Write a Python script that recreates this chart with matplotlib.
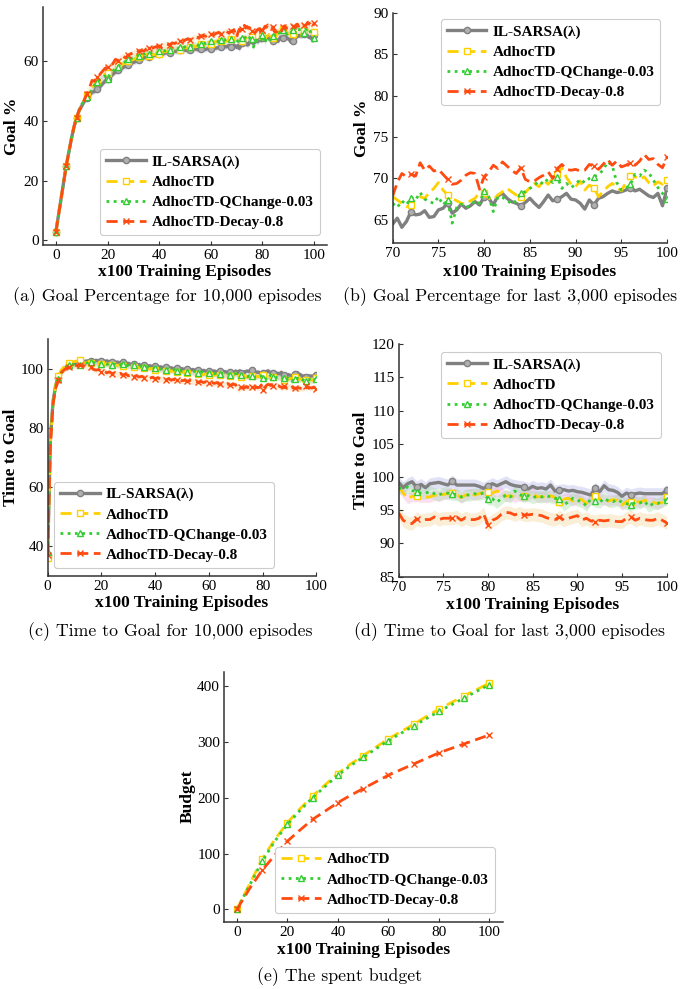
import numpy as np
import matplotlib.pyplot as plt

plt.rcParams['font.family'] = 'Liberation Serif'

# x grids: x100 episodes, 1-step up to 69, then half steps for the last 3,000 episodes
x_early = np.arange(0, 70)
x_late = np.arange(70, 100.01, 0.5)

names = ['IL-SARSA(\u03bb)', 'AdhocTD', 'AdhocTD-QChange-0.03', 'AdhocTD-Decay-0.8']

# ---- Goal % ----
goal_early_il = [3, 8.5, 14, 19.5, 25, 29.5, 34, 38, 41, 43.5, 45, 46.5, 47.5, 48.5, 49.5, 49.8, 50.5, 51.3, 52.3, 53.2,
                 53.8, 54.5, 55.5, 56.2, 56.8, 57.2, 57.8, 58.2, 58.5, 59, 59.5, 59.8, 60.3, 60.5, 61, 61.2, 61.4, 61.6, 61.8, 62,
                 62.2, 62.1, 62.5, 62.8, 62.6, 63, 63.2, 63.1, 63.5, 63.3, 63.6, 63.4, 63.8, 63.6, 64, 63.7, 64, 64.1, 63.8, 64.2,
                 64, 64.4, 64.2, 64.6, 64.5, 64.9, 64.7, 65.2, 64.8, 65.3]
goal_early_ad = [3, 8.5, 14, 19.5, 25, 29.5, 34, 38, 41, 43.5, 45.5, 47, 48.5, 49.5, 51, 52, 53, 54, 54.5, 55.5,
                 56, 56.8, 57, 57.8, 58.5, 58.2, 59, 59.5, 59.8, 60.2, 60.5, 60.8, 61.2, 61.6, 61.5, 62, 61.8, 62.3, 62, 62.5,
                 62.3, 62.8, 63, 63.2, 63.5, 63.3, 63.8, 64, 63.8, 64.3, 64.5, 64.3, 64.8, 65, 64.7, 65.2, 65.5, 65.3, 65.8, 66,
                 65.7, 66.2, 66.5, 66.2, 66.6, 66.8, 66.5, 67, 67.3, 67]
goal_early_qc = [3, 8.5, 14, 19.5, 25, 29.5, 34, 38, 41, 43.5, 45.5, 46.8, 48, 49, 50.5, 52, 53, 53.8, 54.2, 55,
                 54, 55.8, 56.5, 57.5, 58, 58.8, 59.3, 59.8, 60.5, 60.8, 61, 61.3, 61.8, 61.5, 62.2, 62.5, 62.3, 62.8, 63, 62.8,
                 63.2, 63.5, 63.3, 63.8, 63.6, 64, 64.3, 64, 64.5, 64.3, 64.7, 65, 64.8, 65.3, 65.5, 65.2, 65.7, 66, 65.8, 66.2,
                 66.5, 66.2, 66.7, 66.5, 67, 66.8, 67.3, 67.5, 67.2, 67.5]
goal_early_dc = [3, 8.5, 14, 19.5, 25, 29.5, 34, 38, 41, 43.5, 45, 47, 49, 51, 53.5, 53.2, 54.5, 55.5, 56.5, 57.5,
                 58, 58.5, 59, 60.5, 60, 61, 61.5, 61, 62, 62.3, 62.8, 62.5, 63.3, 63.5, 63.2, 64, 64.3, 64, 64.5, 64.8,
                 65, 64.7, 65.3, 65.6, 65.3, 66, 65.8, 66.3, 66.5, 66.2, 67, 67.3, 67, 67.6, 68, 67.7, 68.3, 68.5, 68.2, 68.8,
                 69, 68.6, 69.2, 69.5, 69, 69.6, 69.8, 69.4, 70, 70.3]

goal_late_il = [64.5, 65.2, 64.1, 64.8, 66.0, 65.6, 65.7, 66.1, 65.3, 65.4, 66.2, 66.4, 67.0, 65.8, 66.2, 66.9, 66.4, 66.7, 67.2, 66.8,
                67.8, 67.6, 66.8, 67.9, 68.2, 67.6, 67.2, 67.0, 66.7, 67.1, 67.6, 67.0, 66.5, 67.2, 68.0, 67.3, 67.5, 67.8, 68.2, 67.5,
                67.4, 67.0, 66.3, 67.4, 66.8, 67.6, 67.8, 68.2, 68.5, 68.3, 68.4, 68.6, 68.9, 68.5, 68.7, 68.3, 67.9, 67.7, 68.2, 66.7,
                68.8]
goal_late_ad = [67.8, 67.4, 67.0, 66.6, 66.8, 67.5, 67.8, 67.6, 68.3, 68.8, 69.5, 68.6, 68.0, 67.6, 67.3, 67.0, 66.9, 67.3, 67.6, 68.3,
                68.2, 67.6, 67.4, 68.0, 68.4, 68.8, 68.4, 68.0, 67.8, 68.3, 68.9, 69.4, 69.0, 69.8, 69.3, 70.0, 70.5, 71.3, 70.1, 69.3,
                69.0, 69.7, 68.6, 69.2, 68.9, 67.8, 68.4, 69.0, 69.4, 69.0, 68.5, 69.5, 70.3, 70.2, 69.9, 70.2, 69.5, 69.1, 69.6, 69.3,
                69.8]
goal_late_qc = [67.0, 66.5, 67.3, 66.8, 67.7, 67.4, 68.3, 67.5, 67.2, 67.0, 67.8, 66.8, 67.4, 64.6, 66.5, 66.9, 66.5, 66.7, 67.3, 67.0,
                68.5, 67.8, 66.0, 67.8, 67.7, 67.4, 66.9, 67.3, 68.2, 68.4, 68.8, 69.2, 69.7, 69.3, 70.0, 69.5, 70.2, 68.8, 69.4, 68.9,
                69.3, 69.9, 69.5, 70.0, 70.2, 70.5, 71.0, 72.0, 71.6, 69.5, 68.6, 68.8, 69.3, 70.5, 70.3, 71.0, 70.7, 69.8, 68.9, 68.2,
                67.5]
goal_late_dc = [67.9, 69.5, 70.6, 70.2, 70.5, 70.3, 71.9, 71.0, 71.5, 70.9, 71.1, 70.5, 69.9, 69.3, 69.4, 69.8, 70.4, 70.7, 70.6, 68.7,
                70.2, 70.8, 71.6, 71.2, 72.0, 71.5, 71.0, 70.6, 71.3, 69.9, 69.6, 69.7, 70.1, 70.4, 70.8, 70.0, 71.2, 71.7, 71.1, 71.0,
                71.1, 70.9, 71.0, 71.7, 71.5, 71.1, 71.7, 72.3, 71.6, 72.1, 71.4, 71.6, 71.9, 71.6, 72.1, 72.9, 72.3, 72.4, 71.7, 71.3,
                72.6]

# ---- Time to Goal ----
ttg_early_il = [37, 76, 89, 94.5, 97, 98.8, 99.8, 100.5, 101.2, 101.6, 101.8, 102, 102.2, 102.3, 102.5, 102.6, 102.7, 102.6, 102.8, 102.6,
                102.7, 102.5, 102.6, 102.3, 102.4, 102.1, 102.2, 101.9, 102.1, 101.7, 101.8, 101.4, 101.6, 101.2, 101.4, 101.0, 101.2, 100.8, 101.0, 100.6,
                100.8, 100.4, 100.6, 100.3, 100.5, 100.1, 100.3, 99.9, 100.1, 99.8, 100.0, 99.6, 99.8, 99.5, 99.7, 99.4, 99.6, 99.2, 99.4, 99.1,
                99.3, 99.0, 99.2, 98.9, 99.1, 98.8, 99.0, 98.7, 98.9, 98.6]
ttg_early_ad = [36, 75, 88.5, 94.5, 97.5, 99.5, 100.5, 101.2, 101.8, 102.2, 102.4, 102.5, 103.0, 102.3, 102.0, 102.2, 101.9, 102.1, 101.8, 102.0,
                101.7, 101.9, 101.5, 101.7, 101.3, 101.5, 101.1, 101.3, 100.9, 101.1, 100.7, 100.9, 100.5, 100.7, 100.3, 100.5, 100.1, 100.3, 99.9, 100.1,
                99.7, 99.9, 99.5, 99.7, 99.3, 99.5, 99.1, 99.3, 98.9, 99.1, 98.8, 99.0, 98.6, 98.8, 98.4, 98.6, 98.2, 98.4, 98.0, 98.2,
                97.9, 98.1, 97.8, 98.0, 97.7, 97.9, 97.6, 97.8, 97.5, 97.7]
ttg_early_qc = [38, 76, 89, 94, 96.5, 98.5, 99.8, 100.6, 101.2, 101.5, 101.3, 101.0, 101.2, 101.6, 101.9, 102.0, 102.4, 102.1, 101.8, 102.0,
                101.6, 101.8, 101.4, 101.7, 101.2, 101.5, 101.0, 101.3, 101.5, 101.0, 101.1, 100.7, 101.2, 100.8, 100.6, 100.9, 100.4, 100.7, 100.2, 100.5,
                100.1, 100.3, 99.8, 100.1, 99.6, 99.9, 99.5, 99.7, 99.3, 99.6, 99.2, 99.4, 99.0, 99.3, 98.9, 99.1, 98.7, 98.9, 98.5, 98.8,
                98.4, 98.6, 98.3, 98.5, 98.1, 98.4, 98.0, 98.3, 97.9, 98.1]
ttg_early_dc = [37, 74, 88, 93.5, 96, 98.5, 99.5, 100.2, 100.6, 101.0, 101.2, 101.0, 101.3, 100.8, 101.0, 100.3, 100.5, 99.8, 99.5, 99.7,
                99.0, 99.2, 98.6, 98.9, 98.3, 98.6, 98.0, 98.4, 97.8, 98.2, 97.6, 97.9, 97.3, 97.6, 97.2, 97.4, 97.0, 97.3, 96.8, 97.1,
                96.6, 96.9, 96.5, 96.7, 96.2, 96.6, 96.1, 96.4, 96.0, 96.3, 95.9, 96.1, 95.7, 96.0, 95.6, 95.8, 95.4, 95.7, 95.3, 95.6,
                95.2, 95.4, 95.0, 95.3, 94.7, 95.1, 94.6, 94.9, 94.4, 94.7]

ttg_late_il = [99.2, 98.4, 99.0, 99.3, 98.5, 98.9, 98.4, 99.0, 99.1, 99.2, 99.0, 98.8, 99.4, 98.8, 98.8, 98.8, 98.8, 98.8, 98.6, 98.3,
               98.7, 99.0, 98.7, 99.0, 99.3, 98.9, 98.7, 98.6, 98.5, 98.2, 98.6, 98.3, 98.4, 98.2, 98.8, 97.9, 98.0, 98.1, 97.9, 98.0,
               97.8, 97.7, 97.5, 97.3, 98.3, 97.8, 98.7, 98.1, 98.0, 97.7, 97.1, 97.6, 97.3, 97.5, 97.6, 97.5, 97.5, 97.5, 97.5, 97.5,
               98.0]
ttg_late_ad = [98.5, 97.6, 96.8, 97.1, 97.1, 97.0, 97.0, 97.0, 97.3, 97.1, 97.4, 97.5, 97.6, 97.4, 96.9, 97.3, 97.5, 97.3, 97.5, 97.7,
               97.8, 97.6, 97.9, 97.7, 97.1, 97.2, 97.0, 97.2, 97.1, 97.2, 97.6, 97.0, 97.1, 96.9, 97.2, 96.9, 96.3, 96.7, 96.8, 96.4,
               96.8, 96.6, 96.0, 96.6, 97.1, 96.7, 96.6, 96.4, 96.6, 96.5, 95.8, 96.3, 96.2, 96.4, 96.2, 96.5, 96.3, 96.2, 96.0, 96.2,
               97.0]
ttg_late_qc = [98.3, 98.3, 98.5, 98.0, 97.8, 97.6, 97.6, 97.8, 97.5, 97.3, 97.6, 97.6, 97.4, 97.4, 97.0, 97.3, 97.3, 97.5, 97.4, 97.6,
               96.7, 96.7, 96.2, 96.8, 97.3, 97.0, 97.9, 97.4, 97.1, 97.2, 96.9, 97.1, 97.0, 97.2, 97.0, 96.8, 96.7, 95.8, 96.3, 96.8,
               96.5, 96.3, 95.7, 96.7, 96.4, 96.2, 96.8, 96.4, 96.3, 96.6, 96.2, 96.0, 95.8, 96.2, 96.1, 96.4, 95.6, 96.0, 96.0, 96.4,
               96.6]
ttg_late_dc = [94.6, 93.5, 93.1, 93.0, 93.7, 93.5, 93.6, 93.6, 94.0, 93.6, 93.8, 93.8, 93.8, 94.0, 93.5, 93.9, 93.6, 93.6, 93.8, 94.5,
               92.8, 93.5, 93.8, 94.4, 94.7, 94.6, 94.3, 94.6, 94.3, 94.3, 94.4, 94.3, 94.2, 93.9, 93.7, 93.6, 94.0, 93.5, 93.8, 94.0,
               94.2, 93.5, 93.8, 93.4, 93.3, 93.5, 93.4, 93.5, 93.4, 93.3, 93.3, 93.8, 94.0, 93.5, 93.8, 93.6, 93.5, 93.5, 93.8, 93.5,
               93.1]

# confidence band half widths (goal, ttg)
band_goal = [0.9, 0.9, 1.0, 1.0]
band_ttg = [0.9, 0.8, 0.9, 1.0]

# ---- Budget ----
budget_x = np.arange(0, 101, 5)
budget_ad = [0, 45, 90, 125, 155, 180, 203, 223, 243, 260, 275, 290, 305, 318, 331, 345, 358, 370, 382, 393, 405]
budget_qc = [0, 43, 86, 122, 152, 177, 200, 220, 240, 257, 272, 287, 302, 315, 328, 341, 354, 366, 378, 390, 402]
budget_dc = [0, 37, 70, 97, 122, 142, 161, 176, 191, 204, 216, 228, 240, 250, 260, 270, 280, 288, 296, 304, 312]

# styles
colors = ['#808080', '#FFD000', '#33CC33', '#FF4A10']
band_colors = ['#b8b8ec', '#f4b0dc', '#a8dca8', '#f6d69a']
widths = [2.4, 2.0, 2.0, 2.0]
styles = [dict(ls='-', marker='o', mfc='#b0b0b0', mec='#808080'),
          dict(ls=(0, (4, 2)), marker='s', mfc='white', mec='#FFD000'),
          dict(ls=(0, (1, 1.6)), marker='^', mfc='white', mec='#33CC33'),
          dict(ls=(0, (4, 2)), marker='x', mfc='#FF4A10', mec='#FF4A10')]

fig = plt.figure(figsize=(6.85, 9.89), dpi=100)


def style_axes(ax, ylabel, xl_y, yl_x):
    for s in ['top', 'right']:
        ax.spines[s].set_visible(False)
    for s in ['left', 'bottom']:
        ax.spines[s].set_color('#333333')
        ax.spines[s].set_linewidth(1.1)
    ax.tick_params(direction='in', length=3, width=0.8, labelsize=11, color='#333333', pad=3)
    ax.set_xlabel('x100 Training Episodes', fontsize=12.5, fontweight='bold')
    ax.set_ylabel(ylabel, fontsize=12.5, fontweight='bold')
    ax.xaxis.set_label_coords(0.5, xl_y)
    ax.yaxis.set_label_coords(yl_x, 0.5)
    ax.xaxis.label.set_va('center')
    ax.yaxis.label.set_va('center')


def add_legend(ax, loc, anchor):
    leg = ax.legend(loc=loc, bbox_to_anchor=anchor, prop={'weight': 'bold', 'size': 11},
                    handlelength=2.6, handletextpad=0.4, labelspacing=0.42, borderpad=0.4,
                    fancybox=True, framealpha=1, borderaxespad=0)
    leg.get_frame().set_edgecolor('#cccccc')
    leg.get_frame().set_linewidth(0.8)


def draw_series(ax, x, ys, bands, show_band=True):
    for i, y in enumerate(ys):
        y = np.asarray(y)
        if show_band:
            ax.fill_between(x, y - bands[i], y + bands[i], color=band_colors[i], alpha=0.4, lw=0)
        marks = [k for k, v in enumerate(x) if abs(v % 4) < 1e-9]
        st = styles[i]
        ax.plot(x, y, color=colors[i], lw=widths[i], ls=st['ls'], marker=st['marker'], ms=4.5,
                mfc=st['mfc'], mec=st['mec'], mew=1.0, markevery=marks, label=names[i])


x_all = np.concatenate([x_early, x_late])
goal_all = [goal_early_il + goal_late_il, goal_early_ad + goal_late_ad,
            goal_early_qc + goal_late_qc, goal_early_dc + goal_late_dc]
ttg_all = [ttg_early_il + ttg_late_il, ttg_early_ad + ttg_late_ad,
           ttg_early_qc + ttg_late_qc, ttg_early_dc + ttg_late_dc]

# (a)
ax_a = fig.add_axes([0.0628, 0.7523, 0.4146, 0.2406])
draw_series(ax_a, x_all, goal_all, band_goal)
ax_a.set_xlim(-5, 105)
ax_a.set_ylim(-1.5, 78)
ax_a.set_xticks([0, 20, 40, 60, 80, 100])
ax_a.set_yticks([0, 20, 40, 60])
style_axes(ax_a, 'Goal %', -0.113, -0.109)
add_legend(ax_a, 'lower right', (0.975, 0.04))

# (b)
ax_b = fig.add_axes([0.5733, 0.7543, 0.4005, 0.2325])
draw_series(ax_b, x_late, [goal_late_il, goal_late_ad, goal_late_qc, goal_late_dc], band_goal, show_band=False)
ax_b.set_xlim(70, 100)
ax_b.set_ylim(62.2, 90)
ax_b.set_xticks([70, 75, 80, 85, 90, 95, 100])
ax_b.set_yticks([65, 70, 75, 80, 85, 90])
style_axes(ax_b, 'Goal %', -0.126, -0.112)
add_legend(ax_b, 'upper right', (0.976, 0.975))

# (c)
ax_c = fig.add_axes([0.0696, 0.4176, 0.3921, 0.2396])
draw_series(ax_c, x_all, ttg_all, band_ttg)
ax_c.set_xlim(0, 100)
ax_c.set_ylim(30, 110)
ax_c.set_xticks([0, 20, 40, 60, 80, 100])
ax_c.set_yticks([40, 60, 80, 100])
style_axes(ax_c, 'Time to Goal', -0.114, -0.137)
add_legend(ax_c, 'lower left', (0.023, 0.034))

# (d)
ax_d = fig.add_axes([0.5820, 0.4169, 0.3912, 0.2350])
draw_series(ax_d, x_late, [ttg_late_il, ttg_late_ad, ttg_late_qc, ttg_late_dc], band_ttg)
ax_d.set_xlim(70, 100)
ax_d.set_ylim(85, 120)
ax_d.set_xticks([70, 75, 80, 85, 90, 95, 100])
ax_d.set_yticks([85, 90, 95, 100, 105, 110, 115, 120])
style_axes(ax_d, 'Time to Goal', -0.122, -0.141)
add_legend(ax_d, 'upper right', (0.978, 0.968))

# (e)
ax_e = fig.add_axes([0.3274, 0.0680, 0.4073, 0.2528])
for i, y in zip([1, 2, 3], [budget_ad, budget_qc, budget_dc]):
    st = styles[i]
    ax_e.plot(budget_x, y, color=colors[i], lw=widths[i], ls=st['ls'], marker=st['marker'], ms=5,
              mfc=st['mfc'], mec=st['mec'], mew=1.0, markevery=2, label=names[i])
ax_e.set_xlim(-5, 105.5)
ax_e.set_ylim(-22, 425)
ax_e.set_xticks([0, 20, 40, 60, 80, 100])
ax_e.set_yticks([0, 100, 200, 300, 400])
style_axes(ax_e, 'Budget', -0.113, -0.132)
add_legend(ax_e, 'lower right', (0.970, 0.036))

# captions
cap = dict(ha='center', va='center', fontsize=12.8, family='cmr10')
fig.text(167 / 685, 1 - 297 / 989, '(a) Goal Percentage for 10,000 episodes', **cap)
fig.text(510 / 685, 1 - 297 / 989, '(b) Goal Percentage for last 3,000 episodes', **cap)
fig.text(170 / 685, 1 - 632 / 989, '(c) Time to Goal for 10,000 episodes', **cap)
fig.text(510 / 685, 1 - 632 / 989, '(d) Time to Goal for last 3,000 episodes', **cap)
fig.text(340 / 685, 1 - 977 / 989, '(e) The spent budget', **cap)

fig.savefig('out.png', dpi=100)
